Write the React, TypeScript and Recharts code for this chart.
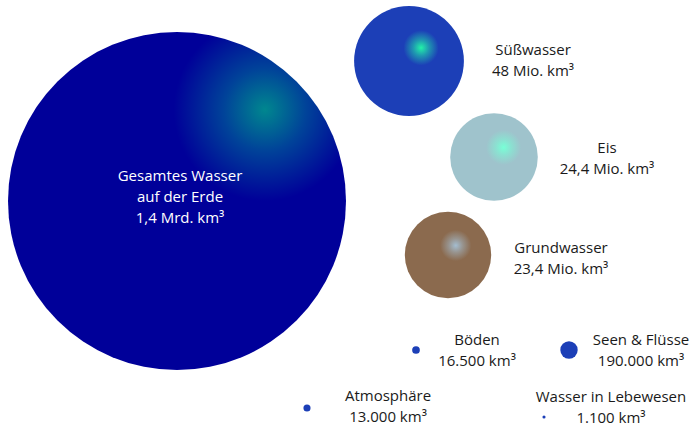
import React from "react";
import { ScatterChart, Scatter, XAxis, YAxis, ZAxis } from "recharts";

// Wasservorkommen der Erde (Volumen in km³)
const names = [
  "Gesamtes Wasser auf der Erde",
  "Süßwasser",
  "Eis",
  "Grundwasser",
  "Böden",
  "Seen & Flüsse",
  "Atmosphäre",
  "Wasser in Lebewesen",
];
const volumes = [1.4e9, 48e6, 24.4e6, 23.4e6, 16500, 190000, 13000, 1100];
const valueLabels = [
  "1,4 Mrd. km³",
  "48 Mio. km³",
  "24,4 Mio. km³",
  "23,4 Mio. km³",
  "16.500 km³",
  "190.000 km³",
  "13.000 km³",
  "1.100 km³",
];

// Anordnung der Kugeln (Layout-Einheiten) und Beschriftungen relativ zur Kugelmitte
const layoutX = [177, 409, 494, 448, 416, 569, 307, 544];
const layoutY = [201, 61, 157, 255, 350, 350, 408, 417];
const labelDx = [3, 124, 113, 113, 61, 72, 81, 67];
const labelDy = [-20, -6, -4, -2, -5, -5, -7, -15];

const W = 690;
const H = 428;
const MAX_R = 169;

// Kugelvolumen -> Querschnittsfläche (∝ V^(2/3)), damit der Radius mit der Kubikwurzel wächst
const data = names.map((name, i) => ({
  name,
  x: layoutX[i],
  y: layoutY[i],
  area: Math.pow(volumes[i], 2 / 3),
  value: valueLabels[i],
  i,
}));
const maxArea = Math.pow(Math.max(...volumes), 2 / 3);

const gradients = [
  { id: "gGesamt", base: "#000099", mid: "#004399", hi: "#00878f", cx: 0.76, cy: 0.23, r: 0.27 },
  { id: "gSuess", base: "#1c3fb7", mid: "#1f98b0", hi: "#22f2a8", cx: 0.61, cy: 0.38, r: 0.16 },
  { id: "gEis", base: "#9fc3cc", mid: "#8ce0d1", hi: "#78ffd6", cx: 0.61, cy: 0.39, r: 0.2 },
  { id: "gGrund", base: "#8b6a4e", mid: "#98948f", hi: "#a4bdd0", cx: 0.59, cy: 0.39, r: 0.18 },
];
const smallFill = "#1c3fb7";

const FONT = "'Open Sans', sans-serif";

function Bubble(props: any) {
  const { cx, cy, payload } = props;
  const i = payload.i;
  const r = props.size != null ? Math.sqrt(props.size / Math.PI) : props.width / 2;
  const fill = gradients[i] ? `url(#${gradients[i].id})` : smallFill;
  const tx = cx + labelDx[i];
  const ty = cy + labelDy[i];
  const inside = i === 0;
  const lines = inside
    ? ["Gesamtes Wasser", "auf der Erde", payload.value]
    : [payload.name, payload.value];
  return (
    <g>
      <circle cx={cx} cy={cy} r={r} fill={fill} />
      <text
        x={tx}
        y={ty}
        textAnchor="middle"
        fontFamily={FONT}
        fontSize={15}
        fill={inside ? "#ffffff" : "#1a1a1a"}
      >
        {lines.map((l, k) => (
          <tspan key={k} x={tx} dy={k === 0 ? 0 : 21}>
            {l}
          </tspan>
        ))}
      </text>
    </g>
  );
}

export default function App() {
  return (
    <div style={{ position: "absolute", left: 0, top: 0, background: "#fff" }}>
      <ScatterChart width={W} height={H} margin={{ top: 0, right: 0, bottom: 0, left: 0 }}>
        <defs>
          {gradients.map((g) => (
            <radialGradient key={g.id} id={g.id} cx={g.cx} cy={g.cy} r={g.r} fx={g.cx} fy={g.cy}>
              <stop offset="0%" stopColor={g.hi} />
              <stop offset="45%" stopColor={g.mid} />
              <stop offset="100%" stopColor={g.base} />
            </radialGradient>
          ))}
        </defs>
        <XAxis type="number" dataKey="x" domain={[0, W]} hide />
        <YAxis type="number" dataKey="y" domain={[0, H]} reversed hide />
        <ZAxis type="number" dataKey="area" domain={[0, maxArea]} range={[0, Math.PI * MAX_R * MAX_R]} />
        <Scatter data={data} shape={Bubble} isAnimationActive={false} />
      </ScatterChart>
    </div>
  );
}
